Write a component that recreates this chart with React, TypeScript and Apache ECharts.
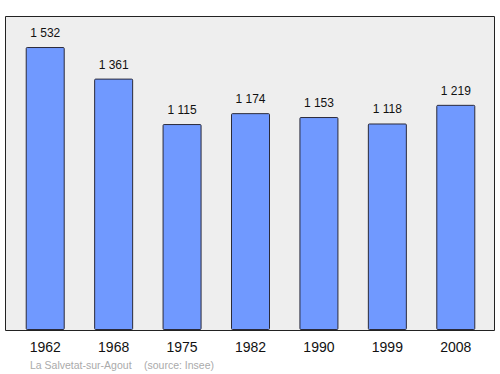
import React, { useEffect, useRef } from "react";
import * as echarts from "echarts";

const years = ["1962", "1968", "1975", "1982", "1990", "1999", "2008"];
const population = [1532, 1361, 1115, 1174, 1153, 1118, 1219];
const place = "La Salvetat-sur-Agout";
const source = "(source: Insee)";

const fmt = (v: number) => {
  const s = String(v);
  return s.length > 3 ? s.slice(0, s.length - 3) + " " + s.slice(-3) : s;
};

export default function App() {
  const ref = useRef<HTMLDivElement>(null);
  useEffect(() => {
    if (!ref.current) return;
    const chart = echarts.init(ref.current, undefined, { renderer: "svg" });
    const capFont = "10.5px 'Liberation Sans', Arial, sans-serif";
    chart.setOption({
      animation: false,
      graphic: [
        {
          type: "rect",
          shape: { x: 5.5, y: 16.5, width: 489, height: 314 },
          style: { fill: "#eeeeee", stroke: "#222", lineWidth: 1 },
          z: -10,
          silent: true,
        },
        {
          type: "text",
          x: 30,
          y: 365,
          style: { text: place, fill: "#aaaaaa", font: capFont, textVerticalAlign: "middle" },
        },
        {
          type: "text",
          x: 144,
          y: 365,
          style: { text: source, fill: "#aaaaaa", font: capFont, textVerticalAlign: "middle" },
        },
      ],
      grid: { left: 11, right: 10, top: 16, bottom: 44 },
      xAxis: {
        type: "category",
        data: years,
        axisLine: { show: false },
        axisTick: { show: false },
        axisLabel: {
          color: "#111",
          fontSize: 14,
          fontFamily: "'Liberation Sans', Arial, sans-serif",
          margin: 10,
        },
      },
      yAxis: {
        type: "value",
        min: 0,
        max: 1700,
        show: false,
        splitLine: { show: false },
      },
      series: [
        {
          type: "bar",
          data: population,
          barWidth: 39,
          itemStyle: {
            color: "#7099ff",
            borderColor: "#2a2a3a",
            borderWidth: 1,
            borderRadius: 1,
          },
          label: {
            show: true,
            position: "top",
            distance: 8,
            color: "#111",
            fontSize: 12,
            fontFamily: "'Liberation Sans', Arial, sans-serif",
            formatter: (p: any) => fmt(p.value),
          },
        },
      ],
    });
    return () => chart.dispose();
  }, []);
  return <div ref={ref} style={{ width: 500, height: 374, position: "absolute", left: 0, top: 0 }} />;
}
